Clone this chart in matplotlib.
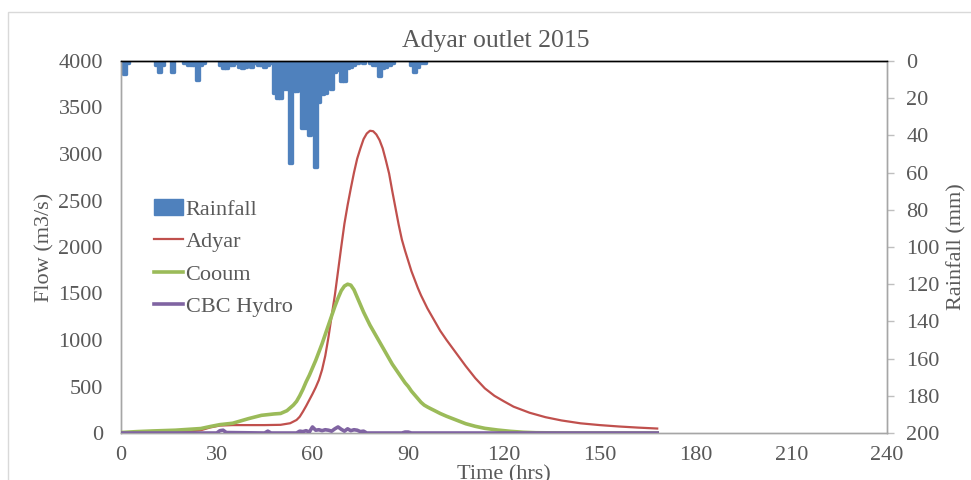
import matplotlib
matplotlib.use("Agg")
import matplotlib.pyplot as plt
from matplotlib.patches import Rectangle, Patch
from matplotlib.lines import Line2D

plt.rcParams['font.family'] = ['Liberation Serif', 'DejaVu Serif']

# hourly rainfall (mm)
rain_hr = [1, 2, 11, 12, 13, 16, 20, 21, 22, 23, 24, 25, 26,
           31, 32, 33, 34, 35, 36, 37, 38, 39, 40, 41, 42, 43, 44, 45, 46, 47,
           48, 49, 50, 51, 52, 53, 54, 55, 56, 57, 58, 59, 60, 61, 62, 63, 64,
           65, 66, 67, 68, 69, 70, 71, 72, 73, 74, 76, 78, 79, 80, 81, 82, 83,
           84, 85, 91, 92, 93, 94, 95]
rain_mm = [7, 1, 2, 6, 2, 6, 1, 2, 2, 2, 10, 2, 1,
           2, 4, 4, 2, 2, 1, 3, 4, 3, 2, 3, 1, 2, 2, 3, 2, 1,
           17, 20, 20, 15, 15, 55, 16, 16, 11, 36, 36, 40, 22, 57, 22, 18, 17,
           14, 15, 6, 5, 11, 11, 4, 3, 2, 1, 1, 1, 2, 2, 8, 4, 3,
           2, 1, 2, 6, 3, 1, 1]

# Adyar flow (m3/s)
adyar_t = [0, 10, 20, 25, 28, 31, 35, 40, 45, 50, 53, 55, 56, 57, 58, 59, 60,
           61, 62, 63, 64, 65, 66, 67, 68, 69, 70, 71, 72, 73, 74, 75, 76, 77,
           78, 79, 80, 81, 82, 83, 84, 85, 86, 87, 88, 89, 90, 91, 92, 93, 94,
           96, 98, 100, 102, 105, 108, 111, 114, 117, 120, 123, 128, 133, 138,
           144, 150, 156, 162, 168]
adyar_q = [0, 2, 10, 30, 60, 80, 85, 85, 85, 88, 105, 140, 175, 230, 290, 355, 420,
           490, 570, 680, 830, 1030, 1260, 1480, 1740, 2000, 2250, 2450, 2630, 2800,
           2950, 3060, 3160, 3220, 3250, 3245, 3210, 3150, 3060, 2930, 2790, 2600,
           2420, 2240, 2080, 1960, 1850, 1740, 1650, 1560, 1480,
           1340, 1220, 1100, 1000, 860, 720, 590, 480, 400, 340, 283, 218, 170, 135,
           104, 85, 70, 58, 48]

# Cooum flow (m3/s)
cooum_t = [0, 5, 10, 17, 25, 28, 31, 35, 40, 44, 48, 50, 52, 54, 55, 56, 57, 58,
           59, 60, 61, 62, 63, 64, 65, 66, 67, 68, 69, 70, 71, 72, 73, 74, 75,
           76, 77, 78, 79, 80, 81, 82, 83, 84, 85, 86, 87, 88, 89, 90, 91, 92,
           93, 94, 95, 96, 97, 98, 100, 102, 105, 108, 111, 114, 118, 122, 126,
           130, 140, 168]
cooum_q = [5, 15, 22, 30, 48, 70, 90, 105, 155, 190, 205, 210, 240, 300, 340, 400,
           470, 550, 620, 700, 780, 870, 960, 1060, 1160, 1260, 1360, 1450, 1530,
           1580, 1600, 1590, 1540, 1460, 1380, 1300, 1230, 1160, 1100, 1040, 980,
           920, 860, 800, 740, 690, 640, 590, 540, 500, 450, 410, 370, 330, 300,
           280, 262, 245, 210, 180, 140, 100, 72, 50, 32, 18, 8, 3, 0, 0]

# CBC Hydro flow (m3/s)
cbc_t = [0, 30, 31, 32, 33, 45, 46, 47, 55, 56, 57, 58, 59, 60, 61, 62, 63, 64,
         65, 66, 67, 68, 69, 70, 71, 72, 73, 74, 75, 76, 77, 88, 89, 90, 91, 168]
cbc_q = [0, 0, 25, 30, 5, 0, 20, 0, 0, 20, 15, 25, 10, 65, 30, 35, 25, 35,
         30, 20, 45, 65, 40, 20, 45, 25, 35, 30, 15, 20, 0, 0, 10, 10, 0, 0]

x_ticks = [0, 30, 60, 90, 120, 150, 180, 210, 240]
flow_ticks = [0, 500, 1000, 1500, 2000, 2500, 3000, 3500, 4000]
rain_ticks = [0, 20, 40, 60, 80, 100, 120, 140, 160, 180, 200]

txt = '#595959'
grey = '#A6A6A6'

fig = plt.figure(figsize=(9.71, 4.8), dpi=100)
ax = fig.add_axes([121/971, 1-433/480, 766/971, 372/480])

ax.plot(adyar_t, adyar_q, color='#C0504D', lw=1.6, label='Adyar', zorder=3,
        solid_joinstyle='round')
ax.plot(cooum_t, cooum_q, color='#9BBB59', lw=2.6, label='Cooum', zorder=3,
        solid_joinstyle='round')
ax.plot(cbc_t, cbc_q, color='#8064A2', lw=2.6, label='CBC Hydro', zorder=4,
        solid_joinstyle='round')

ax.set_xlim(0, 240)
ax.set_ylim(0, 4000)
ax.set_xticks(x_ticks)
ax.set_yticks(flow_ticks)
ax.tick_params(axis='x', length=0, pad=9, labelsize=16, labelcolor=txt)
ax.tick_params(axis='y', length=0, pad=13, labelsize=16, labelcolor=txt)
ax.set_ylabel('Flow (m3/s)', fontsize=16, color=txt)
ax.yaxis.set_label_coords(-0.087, 0.5)
ax.set_xlabel('Time (hrs)', fontsize=16, color=txt)
ax.xaxis.set_label_coords(0.5, -0.086)

ax2 = ax.twinx()
ax2.bar(rain_hr, rain_mm, width=0.9, color='#4F81BD', edgecolor='#4F81BD',
        linewidth=2.4, joinstyle='round', zorder=2)
ax2.set_ylim(200, 0)
ax2.set_yticks(rain_ticks)
ax2.tick_params(axis='y', length=5, width=1, color='#BFBFBF', pad=9,
                labelsize=16, labelcolor=txt)
ax2.set_ylabel('Rainfall (mm)', fontsize=16, color=txt)
ax2.yaxis.set_label_coords(1.078, 0.5)

for a in (ax, ax2):
    for s in ('left', 'right', 'bottom'):
        a.spines[s].set_color(grey)
        a.spines[s].set_linewidth(1)
    a.spines['top'].set_color('black')
    a.spines['top'].set_linewidth(1)
ax2.set_zorder(ax.get_zorder() - 1)
ax.patch.set_visible(False)

handles = [Patch(facecolor='#4F81BD', edgecolor='#4F81BD', label='Rainfall'),
           Line2D([], [], color='#C0504D', lw=1.6, label='Adyar'),
           Line2D([], [], color='#9BBB59', lw=2.6, label='Cooum'),
           Line2D([], [], color='#8064A2', lw=2.6, label='CBC Hydro')]
leg = ax.legend(handles=handles, loc='upper left', bbox_to_anchor=(0.032, 0.652),
                frameon=False, fontsize=16, handlelength=1.3, handletextpad=0.1,
                labelspacing=0.53, borderaxespad=0)
for t in leg.get_texts():
    t.set_color(txt)

fig.text(496/971, 1-41/480, 'Adyar outlet 2015', ha='center', va='center',
         fontsize=18.5, color=txt)

fig.patches.append(Rectangle((8/971, -0.1), 1.2, 1-12/480+0.1,
                             transform=fig.transFigure, fill=False,
                             edgecolor='#D9D9D9', lw=1))

fig.savefig('out.png', dpi=100)
